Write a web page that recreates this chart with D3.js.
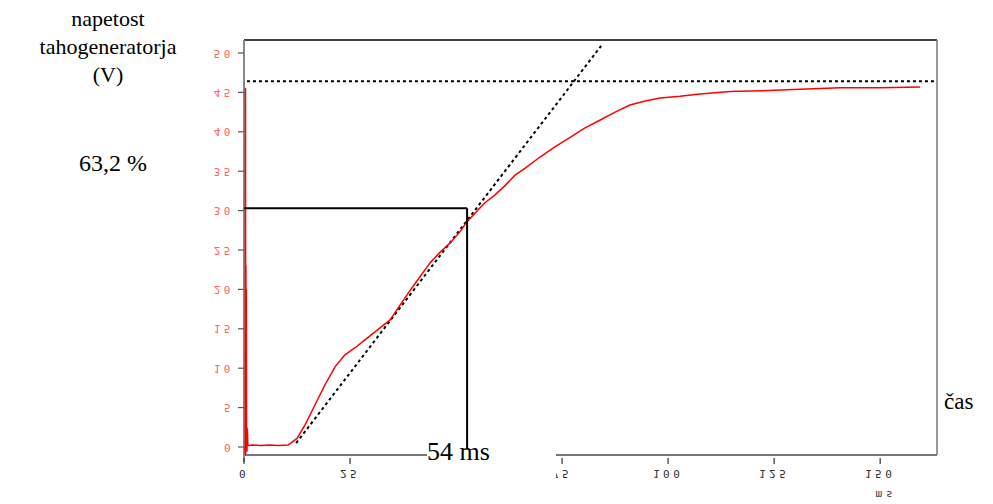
<!DOCTYPE html>
<html><head><meta charset="utf-8">
<script src="https://cdn.jsdelivr.net/npm/d3@7/dist/d3.min.js"></script>
<style>
html,body{margin:0;padding:0;background:#fff;}
svg{display:block;}
</style>
</head><body>
<svg id="c" width="993" height="504"></svg>
<script>
// ---- data ----
const timeMs = [0.2,0.3,0.35,0.4,0.45,0.5,0.55,0.6,0.65,0.7,0.8,0.9,1.0,2,4,6,8,10.4,10.8,12.5,14.4,16.7,19.1,21.5,23.8,26.2,28.5,30.9,32.5,34.4,36.8,39.2,41.5,43.9,46.2,48.6,50.9,52.6,54.5,56.8,59.2,61.6,63.9,66.3,69.8,73.3,76.9,80.4,84.0,87.5,91.0,94.6,98.1,102.8,107.5,114.6,121.7,131.1,140.6,150.0,159.4];
const voltage = [0,-1,45.5,-0.8,23,-0.5,20,0.3,2.5,-0.5,2.3,0.3,0.2,0.25,0.2,0.25,0.2,0.25,0.4,1.1,2.8,5.3,7.9,10.2,11.7,12.6,13.6,14.6,15.3,16.1,18.0,19.9,21.6,23.4,24.7,25.9,27.3,28.6,29.7,31.0,32.0,33.2,34.5,35.4,36.8,38.1,39.3,40.5,41.5,42.5,43.4,43.9,44.3,44.5,44.8,45.1,45.2,45.4,45.6,45.6,45.7];
const yTicks = [0,5,10,15,20,25,30,35,40,45,50];
const xTicks = [0,25,50,75,100,125,150];
const finalValue = 46.4;
const levelValue = 30.3;     // 63,2 % level
const levelTime = 52.6;      // time at 63,2 %
const tangentT = [12.3, 84.2];
const tangentV = [0.5, 50.9];
const yTitle = ["napetost","tahogeneratorja","(V)"];
const levelLabel = "63,2 %";
const timeLabel = "54 ms";
const xTitle = "čas";
const xUnit = "ms";

// ---- layout ----
const svg = d3.select("#c");
const L = 244, R = 937, T = 40, B = 455;
const x = d3.scaleLinear().domain([0, 163.4]).range([L, R]);
const y = d3.scaleLinear().domain([0, 50]).range([447, 53]);

// frame
svg.append("line").attr("x1",L).attr("x2",R).attr("y1",T).attr("y2",T).attr("stroke","#000").attr("stroke-width",1.5);
svg.append("line").attr("x1",R).attr("x2",R).attr("y1",T).attr("y2",B).attr("stroke","#777").attr("stroke-width",1.5);
svg.append("line").attr("x1",L).attr("x2",R).attr("y1",B).attr("y2",B).attr("stroke","#777").attr("stroke-width",2);
svg.append("line").attr("x1",L).attr("x2",L).attr("y1",T).attr("y2",462).attr("stroke","#888").attr("stroke-width",2);

// y axis ticks & flipped labels
const yAx = svg.append("g");
yAx.selectAll("line").data(yTicks).join("line")
  .attr("x1",238).attr("x2",L).attr("y1",d=>y(d)).attr("y2",d=>y(d))
  .attr("stroke","#555").attr("stroke-width",1.2);
yAx.selectAll("text").data(yTicks).join("text")
  .attr("transform",d=>`translate(234,${y(d)}) scale(1,-1)`)
  .attr("text-anchor","end").attr("dominant-baseline","central")
  .attr("font-family","DejaVu Sans Mono").attr("font-size",11).attr("letter-spacing",3.5)
  .attr("fill","#ff6464").text(d=>d);

// x axis ticks & flipped labels
const xAx = svg.append("g");
xAx.selectAll("line").data(xTicks).join("line")
  .attr("x1",d=>x(d)).attr("x2",d=>x(d)).attr("y1",458).attr("y2",464)
  .attr("stroke","#333").attr("stroke-width",1.2);
xAx.selectAll("text").data(xTicks).join("text")
  .attr("transform",d=>`translate(${x(d)},473) scale(1,-1)`)
  .attr("text-anchor","middle").attr("dominant-baseline","central")
  .attr("font-family","DejaVu Sans Mono").attr("font-size",11).attr("letter-spacing",3.5)
  .attr("fill","#333").text(d=>d);
svg.append("text").attr("transform","translate(886,494) scale(1,-1)")
  .attr("text-anchor","middle").attr("dominant-baseline","central")
  .attr("font-family","DejaVu Sans Mono").attr("font-size",11).attr("letter-spacing",4)
  .attr("fill","#333").text(xUnit);

// final value dotted line
svg.append("line").attr("x1",x(0.7)).attr("x2",R).attr("y1",y(finalValue)).attr("y2",y(finalValue))
  .attr("stroke","#000").attr("stroke-width",2).attr("stroke-dasharray","3,3");

// tangent dotted line
svg.append("line").attr("x1",x(tangentT[0])).attr("x2",x(tangentT[1]))
  .attr("y1",y(tangentV[0])).attr("y2",y(tangentV[1]))
  .attr("stroke","#000").attr("stroke-width",2).attr("stroke-dasharray","3,3");

// red curve
const line = d3.line().x((d,i)=>x(timeMs[i])).y((d,i)=>y(voltage[i]));
svg.append("path").datum(voltage).attr("d",line)
  .attr("fill","none").attr("stroke","#ff0000").attr("stroke-width",1.5).attr("stroke-linejoin","round");

// 63.2 % lines
svg.append("line").attr("x1",L).attr("x2",x(levelTime)).attr("y1",y(levelValue)).attr("y2",y(levelValue))
  .attr("stroke","#000").attr("stroke-width",2);
svg.append("line").attr("x1",x(levelTime)).attr("x2",x(levelTime)).attr("y1",y(levelValue)).attr("y2",448)
  .attr("stroke","#000").attr("stroke-width",2);

// white box for label
svg.append("rect").attr("x",427).attr("y",449).attr("width",129).attr("height",30).attr("fill","#fff");
svg.append("text").attr("x",427).attr("y",460)
  .attr("font-family","Liberation Serif").attr("font-size",26).attr("fill","#000").text(timeLabel);

// titles
const tt = svg.append("text").attr("font-family","Liberation Serif").attr("font-size",22).attr("fill","#000").attr("text-anchor","middle");
yTitle.forEach((s,i)=>tt.append("tspan").attr("x",108).attr("y",26+i*28).text(s));
svg.append("text").attr("x",113).attr("y",171).attr("text-anchor","middle")
  .attr("font-family","Liberation Serif").attr("font-size",24).attr("fill","#000").text(levelLabel);
svg.append("text").attr("x",944).attr("y",409)
  .attr("font-family","Liberation Serif").attr("font-size",23).attr("fill","#000").text(xTitle);
</script>
</body></html>
